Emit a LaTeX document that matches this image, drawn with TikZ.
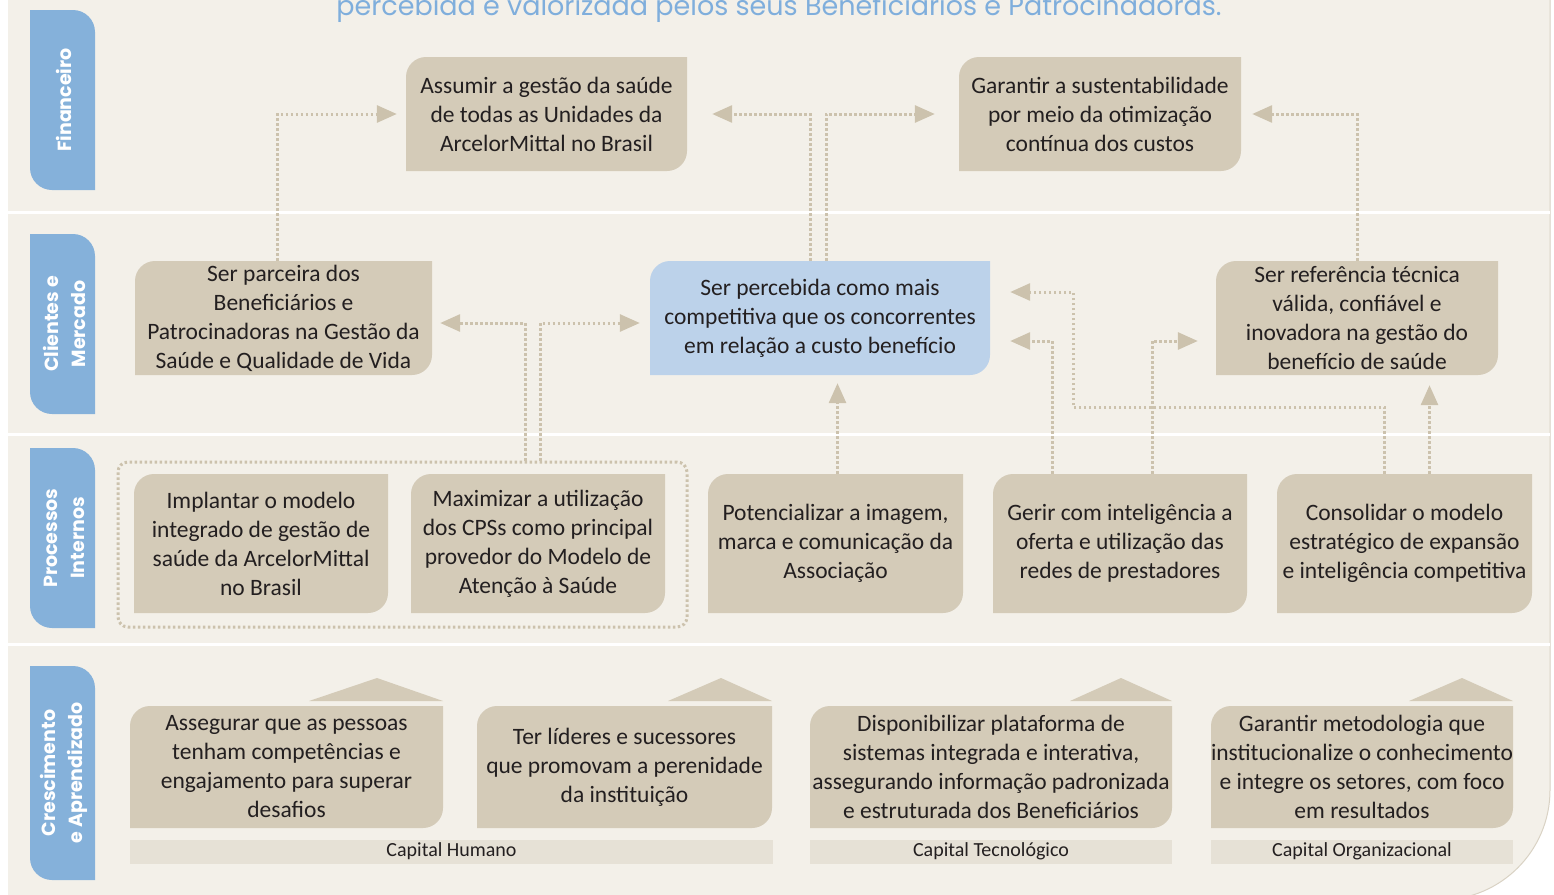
\documentclass[tikz,border=0pt]{standalone}
\usepackage{fontspec}
\setmainfont{Carlito}
\newfontfamily\tabfont{Poppins}
\usetikzlibrary{arrows.meta}

\definecolor{bgc}{HTML}{F3F0E9}
\definecolor{boxc}{HTML}{D4CBB8}
\definecolor{bluebox}{HTML}{BCD2EA}
\definecolor{tabc}{HTML}{85B1DA}
\definecolor{barc}{HTML}{E6E1D6}
\definecolor{dotc}{HTML}{CCC2AD}
\definecolor{edgec}{HTML}{D9D2C4}
\definecolor{txtc}{HTML}{231F20}
\definecolor{titlec}{HTML}{7FAEDC}

\tikzset{
  boxtext/.style={align=center, inner sep=0pt, text=txtc, font=\fontsize{23.5}{29}\selectfont},
  tabtext/.style={align=center, text=white, rotate=90, font=\tabfont\bfseries\fontsize{19}{27}\selectfont},
  bartext/.style={fill=barc, inner sep=0pt, text=txtc, font=\fontsize{20}{22}\selectfont},
  dots/.style={draw=dotc, line width=3pt, dash pattern=on 2.5pt off 2.5pt},
  link/.style={dots, -{Triangle[length=20pt,width=17pt,fill=dotc]}}
}

\newcommand{\leafbox}[7]{
  \fill[#6] (#2,#3+20) arc[start angle=180,end angle=270,radius=20] -- (#4,#3) -- (#4,#5-20) arc[start angle=0,end angle=90,radius=20] -- (#2,#5) -- cycle;
  \node[boxtext, minimum width={#4-#2}, minimum height={#5-#3}] (#1) at ({(#2+#4)/2},{(#3+#5)/2}) {#7};
}

\newcommand{\sidetab}[4]{
  \fill[tabc] (30,#2) -- (73,#2) arc[start angle=270,end angle=360,radius=22] -- (95,#3) -- (52,#3) arc[start angle=90,end angle=180,radius=22] -- cycle;
  \node[tabtext] (#1) at (64,{(#2+#3)/2}) {#4};
}

\begin{document}
\begin{tikzpicture}[x=1pt,y=-1pt]

\useasboundingbox (0,0) rectangle (1554,894);

\fill[bgc] (8,-20) -- (1550,-20) -- (1550,790) arc[start angle=0,end angle=90,radius=110] -- (8,910) -- cycle;
\draw[edgec, line width=1pt] (1550,-20) -- (1550,790) arc[start angle=0,end angle=90,radius=110];

\draw[white, line width=3pt] (8,212) -- (1550,212);
\draw[white, line width=3pt] (8,434) -- (1550,434);
\draw[white, line width=3pt] (8,644) -- (1550,644);

\node[anchor=base, text=titlec, font=\tabfont\fontsize{27}{30}\selectfont] (title) at (779,16) {percebida e valorizada pelos seus Beneficiários e Patrocinadoras.};

\sidetab{fin}{10}{190}{Financeiro}
\sidetab{cli}{234}{414}{Clientes e\\Mercado}
\sidetab{proc}{448}{628}{Processos\\Internos}
\sidetab{cresc}{666}{880}{Crescimento\\e Aprendizado}

\leafbox{a1}{406}{57}{687}{171}{boxc}{Assumir a gestão da saúde\\de todas as Unidades da\\ArcelorMittal no Brasil}
\leafbox{a2}{959}{57}{1241}{171}{boxc}{Garantir a sustentabilidade\\por meio da otimização\\contínua dos custos}

\leafbox{b1}{135}{261}{432}{375}{boxc}{Ser parceira dos\\Beneficiários e\\Patrocinadoras na Gestão da\\Saúde e Qualidade de Vida}
\leafbox{b2}{650}{261}{990}{375}{bluebox}{Ser percebida como mais\\competitiva que os concorrentes\\em relação a custo benefício}
\leafbox{b3}{1216}{261}{1498}{375}{boxc}{Ser referência técnica\\válida, confiável e\\inovadora na gestão do\\benefício de saúde}

\node[dots, rounded corners=10pt, minimum width=569, minimum height=165] (grp) at (402.5,544.5) {};

\leafbox{c1}{134}{474}{388}{613}{boxc}{Implantar o modelo\\integrado de gestão de\\saúde da ArcelorMittal\\no Brasil}
\leafbox{c2}{411}{474}{665}{613}{boxc}{Maximizar a utilização\\dos CPSs como principal\\provedor do Modelo de\\Atenção à Saúde}
\leafbox{c3}{708}{474}{963}{613}{boxc}{Potencializar a imagem,\\marca e comunicação da\\Associação}
\leafbox{c4}{993}{474}{1247}{613}{boxc}{Gerir com inteligência a\\oferta e utilização das\\redes de prestadores}
\leafbox{c5}{1277}{474}{1532}{613}{boxc}{Consolidar o modelo\\estratégico de expansão\\e inteligência competitiva}

\fill[boxc] (309,701) -- (377,678) -- (443,701) -- cycle;
\fill[boxc] (668,701) -- (721,678) -- (772,701) -- cycle;
\fill[boxc] (1070,701) -- (1121,678) -- (1172,701) -- cycle;
\fill[boxc] (1409,701) -- (1462,678) -- (1513,701) -- cycle;

\leafbox{d1}{130}{706}{443}{828}{boxc}{Assegurar que as pessoas\\tenham competências e\\engajamento para superar\\desafios}
\leafbox{d2}{477}{706}{772}{828}{boxc}{Ter líderes e sucessores\\que promovam a perenidade\\da instituição}
\leafbox{d3}{810}{706}{1172}{828}{boxc}{Disponibilizar plataforma de\\sistemas integrada e interativa,\\assegurando informação padronizada\\e estruturada dos Beneficiários}
\leafbox{d4}{1211}{706}{1513}{828}{boxc}{Garantir metodologia que\\institucionalize o conhecimento\\e integre os setores, com foco\\em resultados}

\node[bartext, minimum width=643, minimum height=24] (humano) at (451.5,851.5) {Capital Humano};
\node[bartext, minimum width=362, minimum height=24] (tecno) at (991,851.5) {Capital Tecnológico};
\node[bartext, minimum width=302, minimum height=24] (organ) at (1362,851.5) {Capital Organizacional};

\draw[link, shorten >=9pt] ([xshift=-6pt]b1.north) |- (a1.west);
\draw[link, shorten >=25pt] ([xshift=-10pt]b2.north) |- (a1.east);
\draw[link, shorten >=24pt] ([xshift=6pt]b2.north) |- (a2.west);
\draw[link, shorten >=11pt] (b3.north) |- (a2.east);

\draw[link, shorten >=8pt] ([xshift=-13pt]c2.north |- grp.north) |- ([yshift=-5pt]b1.east);
\draw[link, shorten >=10pt] ([xshift=2pt]c2.north |- grp.north) |- ([yshift=-5pt]b2.west);

\draw[link, shorten >=8pt] ([xshift=2pt]c3.north) -- ([xshift=2pt]c3.north |- b2.south);

\draw[link, shorten >=20pt] ([xshift=-68pt]c4.north) |- ([yshift=-23pt]b2.east);
\draw[link, shorten >=18pt] ([xshift=32pt]c4.north) |- ([yshift=-23pt]b3.west);

\coordinate (turn) at (1073,407);
\draw[link, shorten >=20pt] ([xshift=-20pt]c5.north) |- (turn) |- ([yshift=26pt]b2.east);
\draw[link, shorten >=10pt] ([xshift=25pt]c5.north) -- ([xshift=25pt]c5.north |- b3.south);

\end{tikzpicture}
\end{document}
